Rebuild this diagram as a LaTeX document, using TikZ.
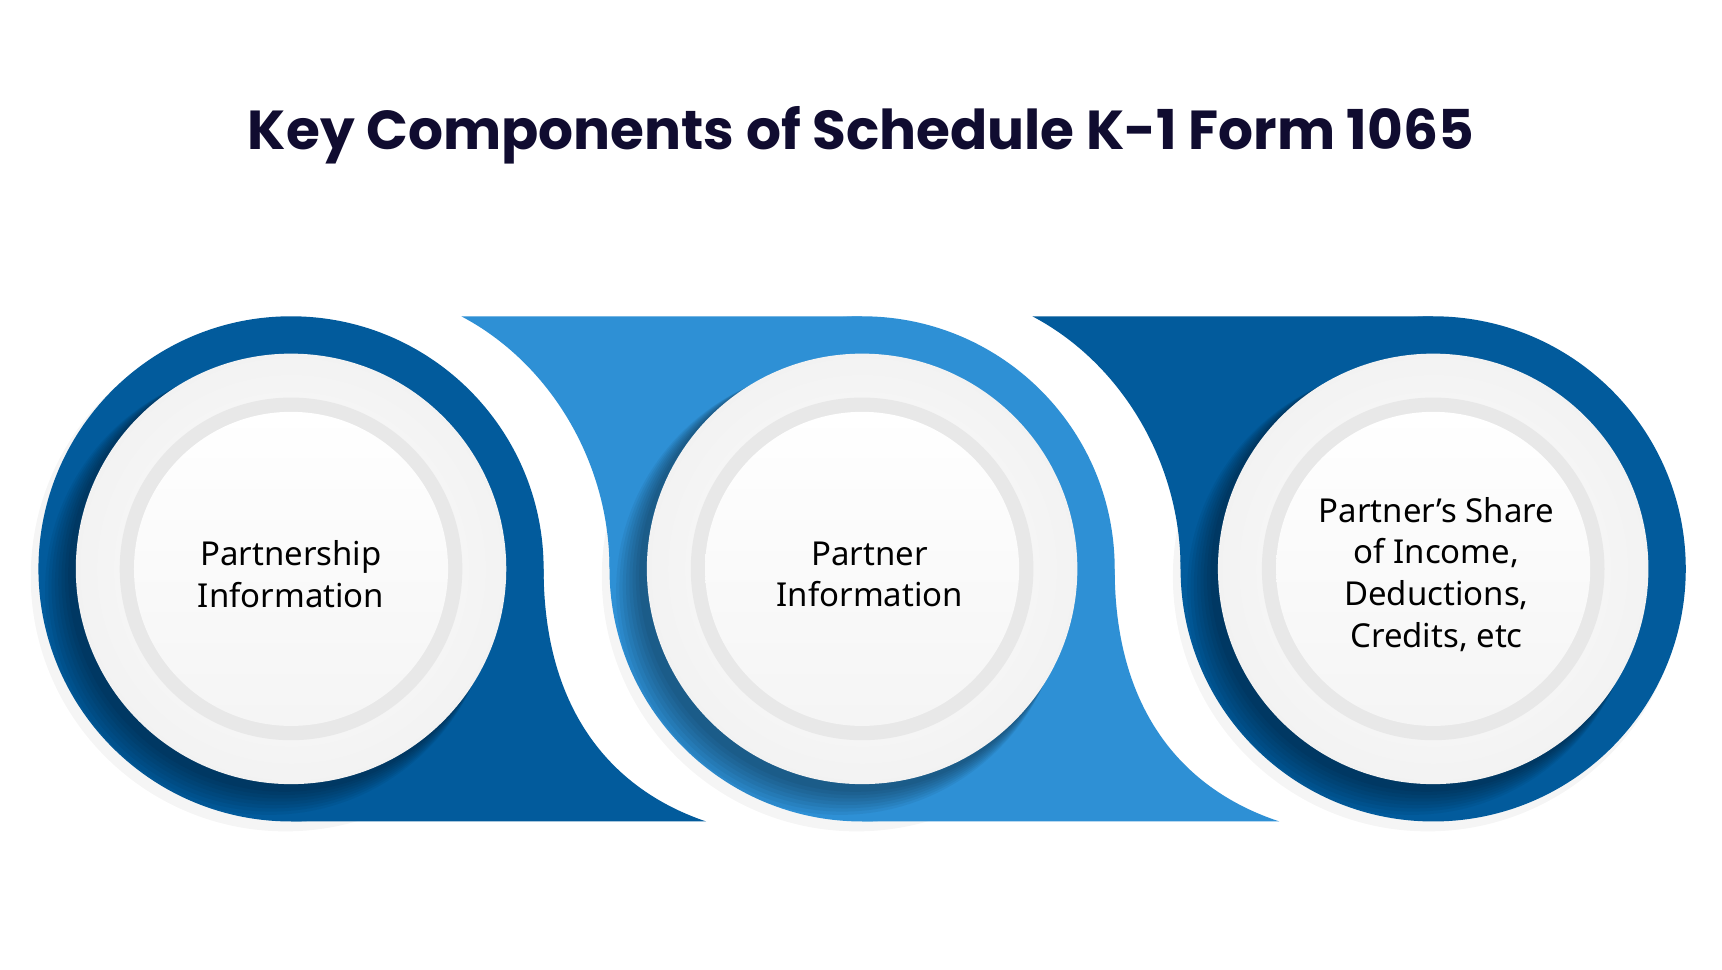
\documentclass[tikz,border=0pt]{standalone}
\usepackage{fontspec}
\setmainfont{Poppins}
\newfontfamily\bodyfont{Noto Sans}
\definecolor{darkb}{HTML}{025B9C}
\definecolor{lightb}{HTML}{2E90D5}
\definecolor{titlec}{HTML}{100C30}
\tikzset{
  lbl/.style={font=\bodyfont\bfseries\fontsize{30}{38}\selectfont, align=center, text=black},
}
\begin{document}
\begin{tikzpicture}[x=1pt,y=-1pt]
\useasboundingbox[fill=white] (0,0) rectangle (1568,883);
\node[font=\bfseries\fontsize{50}{60}\selectfont, text=titlec] (title) at (784,123) {Key Components of Schedule K-1 Form 1065};
% faint ground shadows
\foreach \cx in {265,785,1305}{
  \fill[black, opacity=0.04] (\cx-5,525) circle (232);
}
% band 1
\fill[darkb] (265,518) circle (230);
\fill[darkb] (265,748) -- (643,748) .. controls (560,720) and (495,650) .. (495,518) -- (265,518) -- cycle;
% band 2
\fill[lightb] (785,518) circle (230);
\fill[lightb] (420,288) .. controls (500,330) and (555,420) .. (555,518) -- (785,518) -- (785,288) -- cycle;
\fill[lightb] (1015,518) .. controls (1015,650) and (1080,720) .. (1165,748) -- (785,748) -- (785,518) -- cycle;
% band 3
\fill[darkb] (1305,518) circle (230);
\fill[darkb] (940,288) .. controls (1020,330) and (1075,420) .. (1075,518) -- (1305,518) -- (1305,288) -- cycle;
% disks
\foreach \cx/\n in {265/a,785/b,1305/c}{
  \begin{scope}
    \clip (\cx,518) circle (230);
    \foreach \k in {1,...,8}{
      \fill[black, opacity=0.05] (\cx-4-2*\k,518+4+2*\k) circle (196+\k);
    }
  \end{scope}
  \shade[inner color=white, outer color=black!5] (\cx,518) circle (196);
  \fill[black!9] (\cx,518) circle (156);
  \shade[top color=white, bottom color=black!4] (\cx,518) circle (143);
}
\node[lbl] (n1) at (265,523) {Partnership\\Information};
\node[lbl] (n2) at (792,523) {Partner\\Information};
\node[lbl] (n3) at (1308,523) {Partner’s Share\\of Income,\\Deductions,\\Credits, etc};
\end{tikzpicture}
\end{document}
